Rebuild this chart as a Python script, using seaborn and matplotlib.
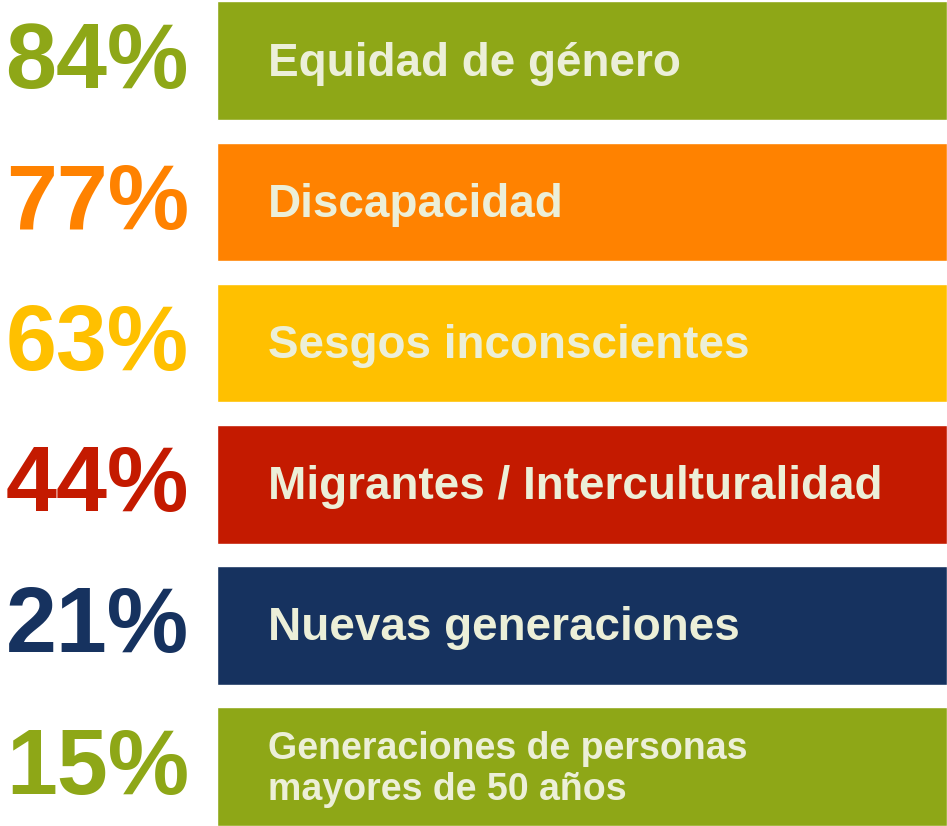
import matplotlib
matplotlib.use("Agg")
import matplotlib.pyplot as plt
import matplotlib.transforms as mtransforms
import pandas as pd
import seaborn as sns

categories = ["Equidad de género", "Discapacidad", "Sesgos inconscientes",
              "Migrantes / Interculturalidad", "Nuevas generaciones",
              "Generaciones de personas\nmayores de 50 años"]
percent = [84, 77, 63, 44, 21, 15]
colors = ["#8EA717", "#FF8200", "#FFC000", "#C41A00", "#16325F", "#8EA717"]
panel = [100] * len(categories)  # every label panel spans the full width

df = pd.DataFrame({"category": categories, "percent": percent, "panel": panel})

sns.set_theme(style="white")
plt.rcParams["font.family"] = ["Liberation Sans", "DejaVu Sans"]

fig = plt.figure(figsize=(9.47, 8.26), dpi=100)
ax = fig.add_axes([217 / 947, 0, 1 - 217 / 947, 1])

sns.barplot(data=df, y="category", x="panel", hue="category",
            palette=colors, orient="h", width=0.84, legend=False,
            saturation=1, ax=ax)

ax.set_xlim(0, 100)
ax.set_ylim(5.42, -0.43)
ax.axis("off")

# label text inside each panel
for i, row in df.iterrows():
    last = "\n" in row["category"]
    ax.text(7, i + 0.02, row["category"], ha="left", va="center",
            color="#ECEFD8", fontweight="bold",
            fontsize=27 if last else 33,
            linespacing=1.2)

# big percentages on the left
trans = mtransforms.blended_transform_factory(fig.transFigure, ax.transData)
for i, row in df.iterrows():
    fig.text(189 / 947, i + 0.02, f"{row['percent']}%", transform=trans,
             ha="right", va="center", fontsize=66, fontweight="bold",
             color=colors[i])

fig.savefig("out.png", dpi=100)
